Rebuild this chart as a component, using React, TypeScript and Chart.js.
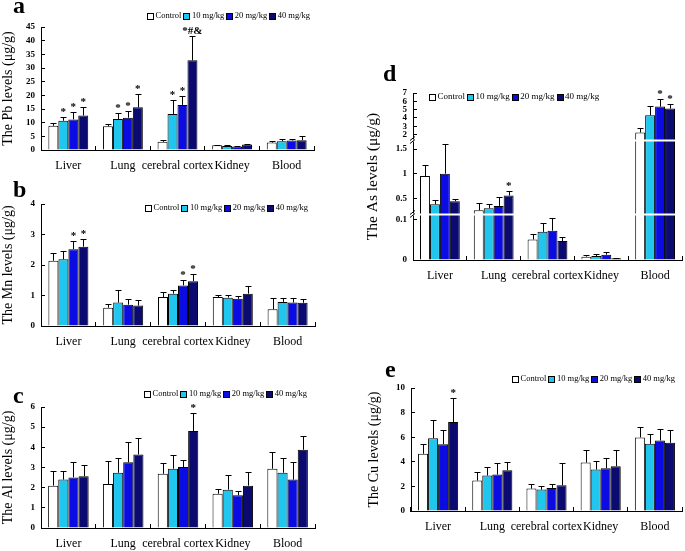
import React, { useEffect, useRef } from "react";
import { Chart, registerables, LinearScale } from "chart.js";

const SERIF = "'Liberation Serif', 'Times New Roman', serif";

const CATEGORIES = ["Liver", "Lung", "cerebral cortex", "Kidney", "Blood"];
const GROUPS = ["Control", "10 mg/kg", "20 mg/kg", "40 mg/kg"];
const GROUP_COLORS = ["#FFFFFF", "#20C6EE", "#0B0BE4", "#0A0A70"];

// Panel a: Pb (rows: Control, 10, 20, 40 mg/kg)
const PB_MEAN = [
  [8.85, 8.7, 3.0, 1.7, 2.7],
  [10.7, 11.3, 13.2, 1.45, 3.2],
  [11.2, 11.8, 16.5, 1.3, 3.5],
  [12.6, 15.6, 32.8, 2.0, 3.6],
];
const PB_SD = [
  [0.95, 0.9, 0.6, 0.1, 0.5],
  [1.3, 2.2, 5.1, 0.25, 0.7],
  [2.6, 2.4, 3.2, 0.3, 0.7],
  [3.0, 4.8, 8.9, 0.2, 1.4],
];
const PB_STARS = [
  ["", "", "", "", ""],
  ["*", "*", "*", "", ""],
  ["*", "*", "*", "", ""],
  ["*", "*", "*#&", "", ""],
];
const PB_TICKS = [0, 5, 10, 15, 20, 25, 30, 35, 40, 45];

// Panel b: Mn
const MN_MEAN = [
  [2.14, 0.6, 0.95, 0.95, 0.55],
  [2.19, 0.77, 1.06, 0.93, 0.79],
  [2.52, 0.7, 1.33, 0.89, 0.77],
  [2.6, 0.67, 1.47, 1.06, 0.76],
];
const MN_SD = [
  [0.25, 0.13, 0.16, 0.06, 0.38],
  [0.28, 0.41, 0.11, 0.1, 0.14],
  [0.26, 0.18, 0.19, 0.1, 0.16],
  [0.25, 0.18, 0.23, 0.26, 0.12],
];
const MN_STARS = [
  ["", "", "", "", ""],
  ["", "", "", "", ""],
  ["*", "", "*", "", ""],
  ["*", "", "*", "", ""],
];
const MN_TICKS = [0, 1, 2, 3, 4];

// Panel c: Al
const AL_MEAN = [
  [2.1, 2.18, 2.69, 1.7, 2.94],
  [2.4, 2.74, 2.94, 1.9, 2.74],
  [2.51, 3.26, 3.02, 1.62, 2.4],
  [2.56, 3.65, 4.81, 2.1, 3.88],
];
const AL_SD = [
  [0.73, 1.13, 0.53, 0.23, 0.83],
  [0.43, 0.73, 0.66, 0.73, 0.73],
  [0.75, 1.02, 0.35, 0.2, 0.89],
  [0.56, 0.8, 0.89, 0.66, 0.67],
];
const AL_STARS = [
  ["", "", "", "", ""],
  ["", "", "", "", ""],
  ["", "", "", "", ""],
  ["", "", "*", "", ""],
];
const AL_TICKS = [0, 1, 2, 3, 4, 5, 6];

// Panel d: As (broken axis)
const AS_MEAN = [
  [0.953, 0.281, 0.051, 0.0083, 2.24],
  [0.394, 0.319, 0.07, 0.0099, 4.32],
  [1.0, 0.362, 0.073, 0.0132, 5.36],
  [0.45, 0.56, 0.047, 0.0041, 5.12],
];
const AS_SD = [
  [0.23, 0.14, 0.013, 0.005, 0.52],
  [0.087, 0.087, 0.021, 0.005, 1.12],
  [0.66, 0.16, 0.052, 0.0075, 0.96],
  [0.044, 0.087, 0.011, 0.001, 0.6],
];
const AS_STARS = [
  ["", "", "", "", ""],
  ["", "", "", "", ""],
  ["", "", "", "", "*"],
  ["", "*", "", "", "*"],
];
const AS_TICKS = [0, 0.1, 0.5, 1, 1.5, 2, 3, 4, 5, 6, 7];
// broken-axis definition: value knots and their share of the axis height
const AS_KNOTS = [0, 0.1, 0.5, 1, 1.5, 2, 7];
const AS_KNOT_SHARE = [0, 0.2406, 0.3678, 0.5169, 0.664, 0.7515, 1];
const AS_BREAKS = [0.206, 1.807];

// Panel e: Cu
const CU_MEAN = [
  [4.65, 2.47, 1.82, 3.94, 5.98],
  [5.92, 2.88, 1.74, 3.37, 5.46],
  [5.43, 2.96, 1.88, 3.48, 5.73],
  [7.23, 3.32, 2.09, 3.64, 5.54],
];
const CU_SD = [
  [0.81, 0.74, 0.35, 0.98, 0.81],
  [1.5, 0.73, 0.33, 0.73, 0.79],
  [1.15, 0.98, 0.29, 0.79, 0.9],
  [1.95, 0.65, 1.8, 1.33, 1.01],
];
const CU_STARS = [
  ["", "", "", "", ""],
  ["", "", "", "", ""],
  ["", "", "", "", ""],
  ["*", "", "", "", ""],
];
const CU_TICKS = [0, 2, 4, 6, 8, 10];

function interp(xs: number[], ys: number[], v: number) {
  if (v <= xs[0]) return ys[0];
  for (let i = 1; i < xs.length; i++) {
    if (v <= xs[i]) {
      const t = (v - xs[i - 1]) / (xs[i] - xs[i - 1]);
      return ys[i - 1] + t * (ys[i] - ys[i - 1]);
    }
  }
  const n = xs.length - 1;
  return ys[n] + ((v - xs[n]) * (ys[n] - ys[n - 1])) / (xs[n] - xs[n - 1]);
}

class BrokenLinearScale extends LinearScale {
  static id = "brokenLinear";
  static defaults = (LinearScale as any).defaults;
  getPixelForValue(value: any) {
    if (value === null || value === undefined || isNaN(value)) return NaN;
    const f = interp(AS_KNOTS, AS_KNOT_SHARE, +value);
    const s: any = this;
    return s.bottom - f * (s.bottom - s.top);
  }
  getValueForPixel(pixel: number) {
    const s: any = this;
    const f = (s.bottom - pixel) / (s.bottom - s.top);
    return interp(AS_KNOT_SHARE, AS_KNOTS, f);
  }
}

Chart.register(...registerables);
Chart.register(BrokenLinearScale as any);

const decorPlugin = {
  id: "decor",
  afterDatasetsDraw(chart: any) {
    const o = chart.options.plugins.decor;
    const ctx = chart.ctx;
    const ys = chart.scales.y;
    const a = chart.chartArea;
    ctx.save();
    (o.breaks || []).forEach((bv: number) => {
      const py = Math.round(ys.getPixelForValue(bv)) + 0.5;
      ctx.strokeStyle = "#fff";
      ctx.lineWidth = 2;
      ctx.beginPath();
      ctx.moveTo(a.left - 2, py);
      ctx.lineTo(a.right, py);
      ctx.stroke();
      ctx.strokeStyle = "#000";
      ctx.lineWidth = 1;
      ctx.beginPath();
      ctx.moveTo(a.left - 3, py);
      ctx.lineTo(a.left + 2, py - 4);
      ctx.moveTo(a.left - 3, py + 3);
      ctx.lineTo(a.left + 2, py - 1);
      ctx.stroke();
    });
    ctx.strokeStyle = "#000";
    ctx.lineWidth = 1;
    chart.data.datasets.forEach((ds: any, di: number) => {
      const meta = chart.getDatasetMeta(di);
      meta.data.forEach((el: any, i: number) => {
        const top = ds.data[i] + ds.sd[i];
        const py = Math.round(ys.getPixelForValue(top)) + 0.5;
        const x = Math.round(el.x) + 0.5;
        ctx.beginPath();
        ctx.moveTo(x, el.y);
        ctx.lineTo(x, py);
        ctx.moveTo(x - 3, py);
        ctx.lineTo(x + 3, py);
        ctx.stroke();
        const s = ds.stars[i];
        if (s) {
          ctx.fillStyle = "#000";
          ctx.font = `bold 11px ${SERIF}`;
          ctx.textAlign = "center";
          ctx.textBaseline = "alphabetic";
          ctx.fillText(s, el.x, py - 3);
        }
      });
    });
    ctx.restore();
  },
  afterDraw(chart: any) {
    const o = chart.options.plugins.decor;
    const ctx = chart.ctx;
    ctx.save();
    // legend
    let x = o.legendX;
    const y = o.legendY;
    ctx.font = `${o.legendSize}px ${SERIF}`;
    ctx.textBaseline = "middle";
    ctx.textAlign = "left";
    ctx.lineWidth = 1;
    chart.data.datasets.forEach((ds: any) => {
      ctx.fillStyle = ds.backgroundColor;
      ctx.fillRect(Math.round(x) + 0.5, Math.round(y - 3) + 0.5, 6, 6);
      ctx.strokeStyle = "#000";
      ctx.strokeRect(Math.round(x) + 0.5, Math.round(y - 3) + 0.5, 6, 6);
      x += 8.5;
      ctx.fillStyle = "#000";
      ctx.fillText(ds.label, x, y);
      x += ctx.measureText(ds.label).width + 2;
    });
    // panel letter
    ctx.font = `bold 24px ${SERIF}`;
    ctx.textBaseline = "alphabetic";
    ctx.fillStyle = "#000";
    ctx.fillText(o.letter, o.letterX, o.letterY);
    ctx.restore();
  },
};

type PanelDef = {
  letter: string;
  title: string;
  titleSize: number;
  means: number[][];
  sd: number[][];
  stars: string[][];
  ticks: number[];
  yType: string;
  breaks: number[];
  box: { x: number; y: number; w: number; h: number };
  plot: { l: number; t: number; r: number; b: number };
  legend: { x: number; y: number; size: number };
  letterPos: { x: number; y: number };
  catPct: number;
  titleX: number;
};

const PANELS: PanelDef[] = [
  {
    letter: "a", title: "The Pb levels (μg/g)", titleSize: 14,
    means: PB_MEAN, sd: PB_SD, stars: PB_STARS, ticks: PB_TICKS, yType: "linear", breaks: [],
    box: { x: 0, y: 0, w: 330, h: 172 }, plot: { l: 41, t: 27, r: 314, b: 150 },
    legend: { x: 147, y: 16, size: 8.5 }, letterPos: { x: 13, y: 13 }, catPct: 0.73, titleX: 8.5,
  },
  {
    letter: "b", title: "The Mn levels (μg/g)", titleSize: 14,
    means: MN_MEAN, sd: MN_SD, stars: MN_STARS, ticks: MN_TICKS, yType: "linear", breaks: [],
    box: { x: 0, y: 172, w: 330, h: 180 }, plot: { l: 41, t: 204, r: 315, b: 326 },
    legend: { x: 145, y: 208, size: 8.5 }, letterPos: { x: 13, y: 197 }, catPct: 0.73, titleX: 8.5,
  },
  {
    letter: "c", title: "The Al levels (μg/g)", titleSize: 14,
    means: AL_MEAN, sd: AL_SD, stars: AL_STARS, ticks: AL_TICKS, yType: "linear", breaks: [],
    box: { x: 0, y: 352, w: 330, h: 199 }, plot: { l: 41, t: 407, r: 315, b: 528 },
    legend: { x: 144, y: 394, size: 8.5 }, letterPos: { x: 13, y: 403 }, catPct: 0.74, titleX: 8.5,
  },
  {
    letter: "d", title: "The As levels (μg/g)", titleSize: 15.5,
    means: AS_MEAN, sd: AS_SD, stars: AS_STARS, ticks: AS_TICKS, yType: "brokenLinear", breaks: AS_BREAKS,
    box: { x: 360, y: 55, w: 325, h: 230 }, plot: { l: 413, t: 93, r: 682, b: 260 },
    legend: { x: 429, y: 97, size: 9 }, letterPos: { x: 383, y: 81 }, catPct: 0.74, titleX: 373,
  },
  {
    letter: "e", title: "The Cu levels (μg/g)", titleSize: 14,
    means: CU_MEAN, sd: CU_SD, stars: CU_STARS, ticks: CU_TICKS, yType: "linear", breaks: [],
    box: { x: 360, y: 350, w: 325, h: 195 }, plot: { l: 411, t: 388, r: 682, b: 511 },
    legend: { x: 512, y: 379, size: 8.5 }, letterPos: { x: 385, y: 377 }, catPct: 0.74, titleX: 374,
  },
];

function buildConfig(p: PanelDef): any {
  const bx = p.box;
  const lineH = p.titleSize * 1.2;
  return {
    type: "bar",
    data: {
      labels: CATEGORIES,
      datasets: GROUPS.map((g, gi) => ({
        label: g,
        data: p.means[gi],
        sd: p.sd[gi],
        stars: p.stars[gi],
        backgroundColor: GROUP_COLORS[gi],
        borderColor: "#000",
        borderWidth: 1,
        categoryPercentage: p.catPct,
        barPercentage: 1,
      })),
    },
    options: {
      responsive: false,
      animation: false,
      events: [],
      layout: {
        padding: { left: 0, top: p.plot.t - bx.y, right: bx.x + bx.w - p.plot.r, bottom: 0 },
      },
      plugins: {
        legend: { display: false },
        tooltip: { enabled: false },
        decor: {
          breaks: p.breaks,
          legendX: p.legend.x - bx.x,
          legendY: p.legend.y - bx.y,
          legendSize: p.legend.size,
          letter: p.letter,
          letterX: p.letterPos.x - bx.x,
          letterY: p.letterPos.y - bx.y,
        },
      },
      scales: {
        x: {
          type: "category",
          offset: true,
          grid: { display: true, offset: true, drawOnChartArea: false, drawTicks: true, tickLength: -4, color: "#000", lineWidth: 1 },
          border: { display: true, color: "#000", width: 1 },
          ticks: { color: "#000", font: { family: SERIF, size: 12 }, padding: 12.5, maxRotation: 0, minRotation: 0, autoSkip: false },
          afterFit: (s: any) => { s.height = bx.y + bx.h - p.plot.b; },
        },
        y: {
          type: p.yType,
          min: p.ticks[0],
          max: p.ticks[p.ticks.length - 1],
          grid: { display: true, drawOnChartArea: false, drawTicks: true, tickLength: -4, color: "#000", lineWidth: 1 },
          border: { display: true, color: "#000", width: 1 },
          ticks: {
            color: "#000",
            font: { family: SERIF, size: 9, weight: "bold" },
            padding: 10,
            autoSkip: false,
            callback: (v: any) => String(v),
          },
          afterBuildTicks: (s: any) => { s.ticks = p.ticks.map((v) => ({ value: v })); },
          afterFit: (s: any) => { s.width = p.plot.l - bx.x; },
          title: {
            display: true,
            text: p.title,
            color: "#000",
            font: { family: SERIF, size: p.titleSize, weight: "normal" },
            padding: { top: Math.max(0, p.titleX - bx.x - lineH / 2), bottom: 0 },
          },
        },
      },
    },
    plugins: [decorPlugin],
  };
}

function Panel({ p }: { p: PanelDef }) {
  const ref = useRef<HTMLCanvasElement>(null);
  useEffect(() => {
    const chart = new Chart(ref.current as HTMLCanvasElement, buildConfig(p));
    return () => chart.destroy();
  }, [p]);
  return (
    <canvas
      ref={ref}
      width={p.box.w}
      height={p.box.h}
      style={{ position: "absolute", left: p.box.x, top: p.box.y, width: p.box.w, height: p.box.h }}
    />
  );
}

export default function App() {
  return (
    <div style={{ position: "absolute", left: 0, top: 0, width: 685, height: 551, background: "#fff", overflow: "hidden" }}>
      {PANELS.map((p) => (
        <Panel key={p.letter} p={p} />
      ))}
    </div>
  );
}
